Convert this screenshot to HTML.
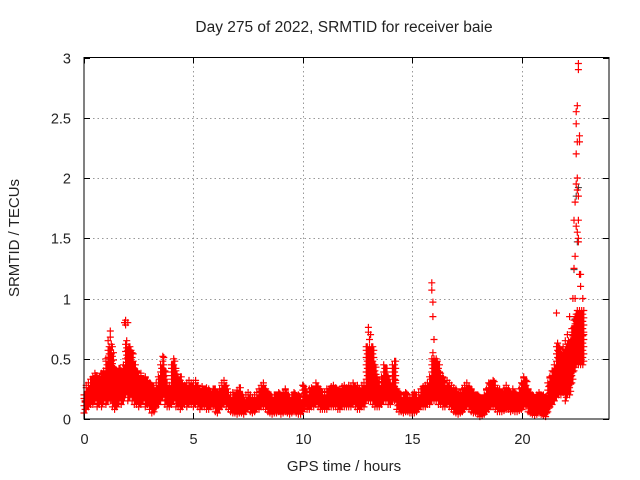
<!DOCTYPE html>
<html><head><meta charset="utf-8"><style>
html,body{margin:0;padding:0;background:#fff;}
svg{display:block;font-family:"Liberation Sans",sans-serif;}
</style></head><body>
<svg id="chart" width="640" height="480" viewBox="0 0 640 480">
<text x="344" y="32" text-anchor="middle" font-size="15.5" fill="#222">Day 275 of 2022, SRMTID for receiver baie</text>
<text x="344" y="471" text-anchor="middle" font-size="15" fill="#222">GPS time / hours</text>
<text transform="translate(19,238) rotate(-90)" text-anchor="middle" font-size="15" fill="#222">SRMTID / TECUs</text>
<g id="grid"></g>
<g id="ticks"></g>
<g id="marks"></g>
<rect x="84" y="57.5" width="525" height="361.5" fill="none" stroke="#000" stroke-width="1"/>
</svg>
<script>
const xTicks=[0,5,10,15,20];
const yTicks=[0,0.5,1,1.5,2,2.5,3];
const yTickLabels=["0","0.5","1","1.5","2","2.5","3"];
const tStart=0, tStep=0.1;
const upper=[.2,.28,.3,.33,.35,.38,.36,.35,.38,.4,
.5,.65,.73,.6,.42,.4,.42,.4,.45,.82,
.8,.6,.55,.45,.4,.35,.38,.3,.35,.32,
.3,.28,.25,.3,.35,.45,.52,.4,.3,.28,
.45,.5,.42,.35,.35,.3,.28,.3,.32,.3,
.3,.32,.28,.25,.27,.25,.26,.25,.23,.25,
.25,.22,.25,.3,.32,.28,.22,.2,.22,.2,
.24,.26,.2,.18,.2,.22,.2,.18,.2,.22,
.25,.28,.3,.25,.22,.2,.18,.2,.2,.22,
.2,.22,.25,.2,.18,.2,.22,.18,.2,.18,
.28,.25,.22,.25,.26,.25,.3,.27,.25,.22,
.22,.25,.25,.27,.28,.26,.24,.25,.27,.28,
.26,.28,.27,.3,.27,.28,.25,.28,.3,.6,
.76,.7,.6,.45,.35,.3,.35,.45,.42,.35,
.3,.45,.48,.25,.22,.2,.2,.22,.2,.18,
.2,.22,.2,.22,.25,.27,.28,.3,.35,.5,
.5,.5,.45,.38,.35,.3,.32,.3,.28,.26,
.25,.22,.22,.25,.28,.3,.27,.25,.22,.2,
.2,.18,.17,.2,.25,.3,.3,.32,.28,.25,
.25,.22,.25,.28,.25,.22,.25,.22,.2,.25,
.3,.35,.32,.25,.22,.2,.18,.2,.22,.2,
.2,.18,.3,.35,.4,.45,.88,.6,.55,.6,
.65,.7,.85,.75,1.65,2.55,2.95,1.2,1.0];
const middle=[.15,.18,.2,.22,.25,.28,.25,.22,.26,.28,
.3,.35,.35,.3,.25,.28,.3,.28,.3,.5,
.35,.3,.28,.25,.22,.2,.25,.22,.2,.2,
.2,.18,.15,.2,.22,.3,.35,.28,.2,.2,
.3,.32,.25,.2,.2,.2,.18,.18,.2,.2,
.2,.2,.18,.17,.18,.18,.17,.16,.16,.17,
.16,.14,.18,.2,.22,.2,.15,.14,.14,.12,
.14,.15,.12,.1,.12,.14,.13,.1,.12,.14,
.16,.18,.2,.17,.15,.12,.1,.12,.12,.14,
.12,.14,.15,.12,.1,.12,.14,.1,.12,.1,
.15,.17,.15,.16,.18,.17,.2,.18,.15,.14,
.15,.16,.16,.18,.18,.17,.15,.16,.18,.18,
.17,.18,.18,.2,.18,.17,.15,.17,.2,.3,
.4,.4,.3,.25,.2,.2,.25,.3,.28,.25,
.2,.3,.32,.15,.14,.14,.13,.14,.14,.12,
.12,.14,.13,.15,.17,.18,.2,.2,.22,.3,
.3,.3,.28,.22,.2,.2,.22,.2,.18,.16,
.16,.14,.14,.16,.18,.2,.18,.15,.14,.12,
.12,.1,.1,.12,.15,.18,.2,.2,.18,.16,
.16,.14,.15,.18,.16,.14,.15,.14,.13,.15,
.18,.2,.2,.15,.14,.12,.1,.12,.13,.12,
.12,.1,.18,.22,.25,.3,.4,.35,.35,.4,
.45,.5,.55,.6,1.0,1.9,2.3,.9,.7];
const lower=[.05,.08,.1,.12,.12,.15,.1,.12,.1,.15,
.12,.15,.15,.1,.08,.1,.15,.12,.15,.2,
.15,.18,.15,.12,.12,.1,.12,.15,.1,.12,
.08,.05,.06,.1,.12,.15,.18,.12,.1,.1,
.12,.15,.1,.1,.08,.1,.12,.1,.12,.12,
.1,.12,.1,.08,.1,.1,.08,.08,.1,.1,
.06,.05,.08,.1,.12,.1,.08,.06,.05,.05,
.04,.05,.05,.04,.06,.08,.06,.05,.06,.08,
.08,.1,.1,.08,.06,.05,.04,.05,.05,.06,
.04,.05,.06,.05,.04,.05,.06,.05,.04,.04,
.06,.1,.08,.08,.1,.1,.12,.1,.08,.08,
.08,.08,.1,.1,.1,.1,.08,.08,.1,.1,
.1,.1,.1,.12,.1,.08,.08,.1,.1,.15,
.15,.15,.12,.1,.1,.1,.12,.15,.15,.12,
.12,.15,.15,.08,.06,.06,.05,.06,.06,.05,
.05,.05,.06,.08,.1,.1,.1,.12,.12,.15,
.15,.15,.12,.12,.1,.1,.12,.1,.08,.06,
.05,.04,.05,.06,.08,.1,.08,.06,.05,.05,
.04,.02,.03,.04,.06,.08,.1,.1,.08,.06,
.06,.06,.07,.08,.08,.06,.07,.06,.06,.07,
.08,.1,.1,.06,.05,.04,.03,.04,.05,.04,
.03,.02,.06,.1,.12,.15,.18,.2,.2,.22,
.15,.2,.2,.3,.4,.45,.45,.45,.45];
const extraT=[22.4,22.45,22.5,22.55,22.6,22.65,22.5,22.55,22.6,22.45,22.6,22.7,22.75,22.35,22.4,22.5,22.55,22.6,22.45,22.5,22.55,22.6,22.65,15.9,15.9,15.95,15.95,16.0,15.95,1.85,1.9,1.2,1.25,13.0,13.05];
const extraV=[1.25,1.8,2.2,2.6,2.9,2.35,1.95,2.0,1.5,0.85,1.47,1.1,0.7,1.0,1.65,2.45,2.3,1.85,1.35,1.6,1.55,1.65,1.2,1.13,1.07,0.97,0.85,0.66,0.55,0.8,0.78,0.68,0.62,0.72,0.66];
const blackT=[22.55,22.5,22.6,22.4,22.45,10.0,7.6];
const blackV=[1.47,1.85,1.92,1.24,0.83,0.28,0.2];

const X0=84,X1=609,Y0=419,Y1=57.5,TMAX=24,VMAX=3;
function xs(t){return X0+(X1-X0)*t/TMAX;}
function ys(v){return Y0-(Y0-Y1)*v/VMAX;}
const NS="http://www.w3.org/2000/svg";
const grid=document.getElementById('grid'),ticks=document.getElementById('ticks'),marks=document.getElementById('marks');
function line(g,x1,y1,x2,y2,st,dash){const l=document.createElementNS(NS,'line');l.setAttribute('x1',x1);l.setAttribute('y1',y1);l.setAttribute('x2',x2);l.setAttribute('y2',y2);l.setAttribute('stroke',st);if(dash)l.setAttribute('stroke-dasharray',dash);g.appendChild(l);return l;}
function txt(x,y,s,anc){const t=document.createElementNS(NS,'text');t.setAttribute('x',x);t.setAttribute('y',y);t.setAttribute('text-anchor',anc);t.setAttribute('font-size','14.5');t.setAttribute('fill','#222');t.textContent=s;ticks.appendChild(t);return t;}
xTicks.forEach(t=>{const x=Math.round(xs(t))+0.5;
 if(t>0){const g=line(grid,x,Y1,x,Y0,'#999','1.5,3');}
 line(ticks,x,Y0,x,Y0-6,'#000');line(ticks,x,Y1,x,Y1+6,'#000');
 const lb=txt(x,444,String(t),'middle');
 
 });
yTicks.forEach((v,i)=>{const y=Math.round(ys(v))+0.5;
 if(v>0&&v<VMAX){const g=line(grid,X0,y,X1,y,'#999','1.5,3');}
 line(ticks,X0,y,X0+6,y,'#000');line(ticks,X1,y,X1-6,y,'#000');
 const lb=txt(71,y+5,yTickLabels[i],'end');
 
 });
let d='';
function plus(t,v){const x=xs(t),y=ys(v);return `M${(x-3.5).toFixed(1)} ${y.toFixed(1)}h7M${x.toFixed(1)} ${(y-3.5).toFixed(1)}v7`;}
let dk='';
blackT.forEach((t,i)=>{dk+=plus(t,blackV[i]);});
// each sample: markers spread between its lower value and (capped) upper value
upper.forEach((u,i)=>{
  const lo=lower[i], t=tStart+i*tStep;
  const top=Math.min(u, lo+0.45);
  let k=0;
  for(let v=lo; v<=top+1e-9; v+=0.03){
    d+=plus(t+((k%2)?0.05:0), v); k++;
  }
  d+=plus(t,u);
  d+=plus(t+0.05,middle[i]);
});
extraT.forEach((t,i)=>{d+=plus(t,extraV[i]);});
const p=document.createElementNS(NS,'path');p.setAttribute('d',d);p.setAttribute('stroke','#ff0000');p.setAttribute('fill','none');p.setAttribute('stroke-width','1.2');


marks.appendChild(p);
const pk=document.createElementNS(NS,'path');pk.setAttribute('d',dk);pk.setAttribute('stroke','#333');pk.setAttribute('fill','none');pk.setAttribute('stroke-width','1');


marks.insertBefore(pk,p);
</script>
</body></html>
